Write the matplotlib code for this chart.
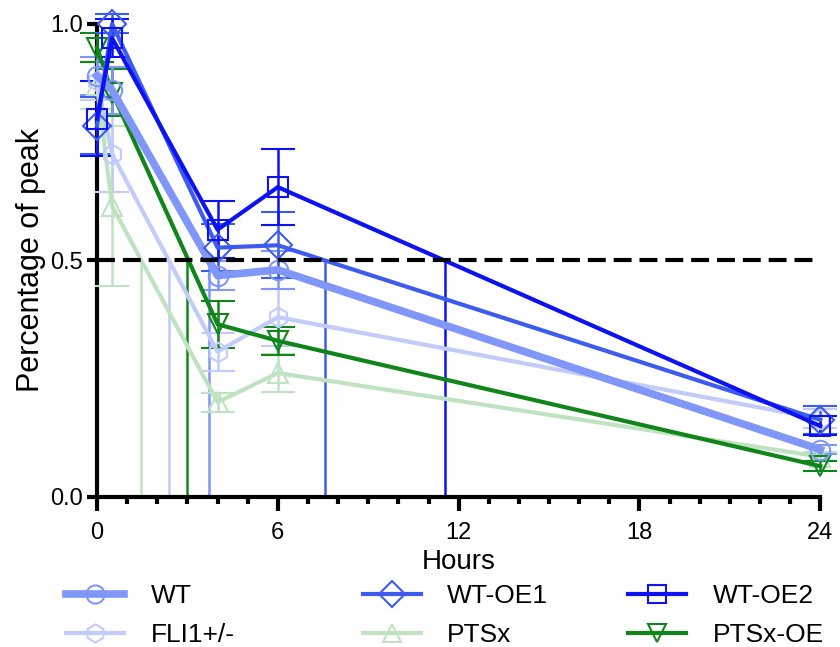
import numpy as np
import matplotlib.pyplot as plt
from matplotlib.lines import Line2D
from matplotlib.ticker import MultipleLocator

plt.rcParams['font.family'] = ['Liberation Sans', 'DejaVu Sans']

hours = [0, 0.5, 4, 6, 24]

labels = ['WT', 'WT-OE1', 'WT-OE2', 'FLI1+/-', 'PTSx', 'PTSx-OE']
colors = ['#8096f8', '#3d5cef', '#0c12f0', '#c2cbf9', '#bfe3c0', '#10861a']
markers = ['o', 'D', 's', 'h', '^', 'v']
widths = [5.5, 3, 3, 3, 3, 3]

means = {
    'WT':      [0.89, 0.86, 0.468, 0.480, 0.100],
    'WT-OE1':  [0.785, 1.00, 0.527, 0.532, 0.163],
    'WT-OE2':  [0.80, 0.97, 0.565, 0.655, 0.150],
    'FLI1+/-': [0.88, 0.725, 0.307, 0.380, 0.165],
    'PTSx':    [0.87, 0.615, 0.200, 0.262, 0.085],
    'PTSx-OE': [0.95, 0.855, 0.365, 0.330, 0.065],
}
sems = {
    'WT':      [0.04, 0.05, 0.03, 0.04, 0.01],
    'WT-OE1':  [0.06, 0.02, 0.05, 0.07, 0.03],
    'WT-OE2':  [0.08, 0.04, 0.06, 0.08, 0.02],
    'FLI1+/-': [0.04, 0.08, 0.04, 0.06, 0.02],
    'PTSx':    [0.05, 0.17, 0.02, 0.04, 0.01],
    'PTSx-OE': [0.03, 0.05, 0.05, 0.03, 0.01],
}
# time at which each curve crosses half of peak
half_times = {'PTSx': 1.45, 'FLI1+/-': 2.4, 'PTSx-OE': 3.0,
              'WT': 3.7, 'WT-OE1': 7.55, 'WT-OE2': 11.55}

fig = plt.figure(figsize=(8.4, 6.47), dpi=100)
ax = fig.add_axes([0.1155, 0.232, 0.861, 0.731])

order = ['PTSx', 'FLI1+/-', 'PTSx-OE', 'WT', 'WT-OE1', 'WT-OE2']
for name in order:
    i = labels.index(name)
    c = colors[i]
    ax.vlines(half_times[name], 0, 0.5, color=c, lw=1.8, zorder=2)
    eb = ax.errorbar(hours, means[name], yerr=sems[name], color=c, lw=widths[i],
                     marker=markers[i], ms=14, mfc='none', mec=c, mew=1.5,
                     ecolor=c, elinewidth=1.8, capsize=12, capthick=1.8,
                     clip_on=False, zorder=3)
    for art in eb.lines[1] + tuple(eb.lines[2]):
        art.set_clip_on(False)

ax.axhline(0.5, color='black', lw=3, ls=(0, (4.3, 1.9)), zorder=4)

ax.set_xlim(0, 24)
ax.set_ylim(0, 1.0)
ax.set_xticks([0, 6, 12, 18, 24])
ax.xaxis.set_minor_locator(MultipleLocator(1))
ax.set_yticks([0.0, 0.5, 1.0])
ax.set_yticklabels(['0.0', '0.5', '1.0'])
ax.tick_params(axis='x', which='major', width=3, length=10, labelsize=17, pad=8)
ax.tick_params(axis='x', which='minor', width=3, length=5)
ax.tick_params(axis='y', width=3, length=7, labelsize=17, pad=3)
for s in ['left', 'bottom']:
    ax.spines[s].set_linewidth(3)
for s in ['top', 'right']:
    ax.spines[s].set_visible(False)
ax.set_xlabel('Hours', fontsize=20, labelpad=4)
ax.set_ylabel('Percentage of peak', fontsize=22, labelpad=3)

# legend: three columns of two rows, placed one column at a time
col_x = [0.079, 0.432, 0.748]
for k in range(3):
    names = [labels[k], labels[k + 3]]
    hs = []
    for n in names:
        i = labels.index(n)
        hs.append(Line2D([], [], color=colors[i], lw=widths[i], marker=markers[i],
                         ms=13, mfc='none', mec=colors[i], mew=1.5))
    fig.legend(hs, names, loc='upper left', bbox_to_anchor=(col_x[k], 0.097),
               frameon=False, fontsize=19, handlelength=2.2, handletextpad=1.0,
               labelspacing=0.57, borderpad=0, borderaxespad=0)

fig.savefig('out.png', dpi=100)
